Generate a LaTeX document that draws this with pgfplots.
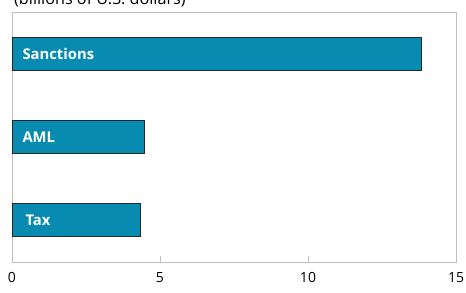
\documentclass[border=0pt]{standalone}
\usepackage{fontspec}
\setmainfont{Open Sans}
\usepackage{pgfplots}
\pgfplotsset{compat=1.18}
\definecolor{barblue}{RGB}{8,139,176}
\definecolor{framegray}{RGB}{191,191,191}
\begin{document}
\begin{tikzpicture}
\begin{axis}[
  at={(0,0)}, anchor=south west,
  scale only axis,
  width=444bp, height=250bp,
  xmin=0, xmax=15, ymin=-0.5, ymax=2.5,
  xbar, bar width=33bp,
  axis line style={draw=framegray, line width=0.8bp},
  xtick={0,5,10,15},
  ytick=\empty,
  tick align=inside,
  xtick pos=bottom,
  major tick length=6bp,
  xtick style={draw=framegray, line width=0.8bp},
  /pgf/number format/assume math mode=true,
  xticklabel style={font=\fontsize{14bp}{16bp}\selectfont, text=black, yshift=-7bp},
  clip=false,
]
\addplot[fill=barblue, draw=black!85, line width=0.8bp] coordinates {(4.35,0) (4.46,1) (13.84,2)};
\node[anchor=west, text=white, font=\fontsize{14.8bp}{17bp}\selectfont\bfseries, xshift=7bp] at (axis cs:0,2) {Sanctions};
\node[anchor=west, text=white, font=\fontsize{14.8bp}{17bp}\selectfont\bfseries, xshift=7bp] at (axis cs:0,1) {AML};
\node[anchor=west, text=white, font=\fontsize{14.8bp}{17bp}\selectfont\bfseries, xshift=10bp] at (axis cs:0,0) {Tax};
\end{axis}
\node[anchor=base west, font=\fontsize{16.2bp}{18bp}\selectfont, inner sep=0pt] at (2bp,257.5bp) {(billions of U.S. dollars)};
\pgfresetboundingbox
\useasboundingbox (-12bp,-31bp) rectangle (454bp,262bp);
\end{tikzpicture}
\end{document}
